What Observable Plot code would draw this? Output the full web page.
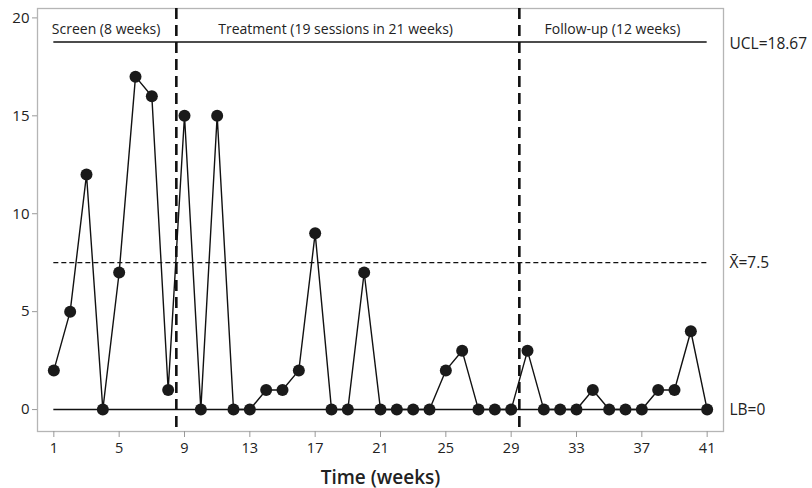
<!DOCTYPE html>
<html>
<head>
<meta charset="utf-8">
<script src="https://cdn.jsdelivr.net/npm/d3@7"></script>
<script src="https://cdn.jsdelivr.net/npm/@observablehq/plot@0.6"></script>
<style>
  html, body { margin: 0; padding: 0; background: #fff; }
  svg g[aria-label="x-axis tick"] path, svg g[aria-label="y-axis tick"] path { stroke: #999; }
</style>
</head>
<body>
<div id="chart"></div>
<script>
const weeks = d3.range(1, 42);
const counts = [2, 5, 12, 0, 7, 17, 16, 1, 15, 0, 15, 0, 0, 1, 1, 2, 9, 0, 0, 7,
                0, 0, 0, 0, 2, 3, 0, 0, 0, 3, 0, 0, 0, 1, 0, 0, 0, 1, 1, 4, 0];
const phaseNames = ["Screen (8 weeks)", "Treatment (19 sessions in 21 weeks)", "Follow-up (12 weeks)"];
const phaseLabelX = [4.2, 18.25, 35.2];
const phaseBreaks = [8.5, 29.5];
const ucl = 18.67, mean = 7.5, lb = 0;
const limitLabels = ["UCL=18.67", "X\u0304=7.5", "LB=0"];
const limitValues = [ucl, mean, lb];
const xTicks = [1, 5, 9, 13, 17, 21, 25, 29, 33, 37, 41];
const yTicks = [0, 5, 10, 15, 20];

const data = weeks.map((w, i) => ({week: w, count: counts[i]}));
const phases = phaseNames.map((n, i) => ({name: n, x: phaseLabelX[i]}));
const limits = limitLabels.map((l, i) => ({label: l, y: limitValues[i]}));

const chart = Plot.plot({
  width: 812,
  height: 488,
  marginLeft: 37,
  marginRight: 89,
  marginTop: 8,
  marginBottom: 57,
  style: {fontFamily: "'Open Sans', sans-serif", fontSize: "13px", color: "#222", background: "#fff"},
  x: {domain: [0, 42]},
  y: {domain: [-1.12, 20.48]},
  marks: [
    Plot.frame({stroke: "#b5b5b5", strokeWidth: 1.3}),
    Plot.axisX({ticks: xTicks, tickSize: 6, tickPadding: 5, fontSize: 14.5, label: null}),
    Plot.axisY({ticks: yTicks, tickSize: 5, tickPadding: 3, fontSize: 15, label: null}),
    Plot.text(["Time (weeks)"], {frameAnchor: "bottom", dy: 52, fontSize: 19, fontWeight: 600, fill: "#222"}),
    Plot.ruleY([ucl], {x1: 1, x2: 41, dy: -2, stroke: "#111", strokeWidth: 1.4}),
    Plot.ruleY([mean], {x1: 1, x2: 41, stroke: "#111", strokeWidth: 1.2, strokeDasharray: "5,3"}),
    Plot.ruleY([lb], {x1: 1, x2: 41, stroke: "#111", strokeWidth: 1.4}),
    Plot.ruleX(phaseBreaks, {stroke: "#111", strokeWidth: 2.6, strokeDasharray: "11,6"}),
    Plot.line(data, {x: "week", y: "count", stroke: "#111", strokeWidth: 1.4}),
    Plot.dot(data, {x: "week", y: "count", r: 6, fill: "#1a1a1a", stroke: "none"}),
    Plot.text(phases, {x: "x", y: ucl, text: "name", lineAnchor: "bottom", dy: -10, fontSize: 14, fill: "#222"}),
    Plot.text(limits, {x: 42, y: "y", text: "label", textAnchor: "start", dx: 6, fontSize: 15.5, fill: "#222"})
  ]
});
document.getElementById("chart").appendChild(chart);
</script>
</body>
</html>
